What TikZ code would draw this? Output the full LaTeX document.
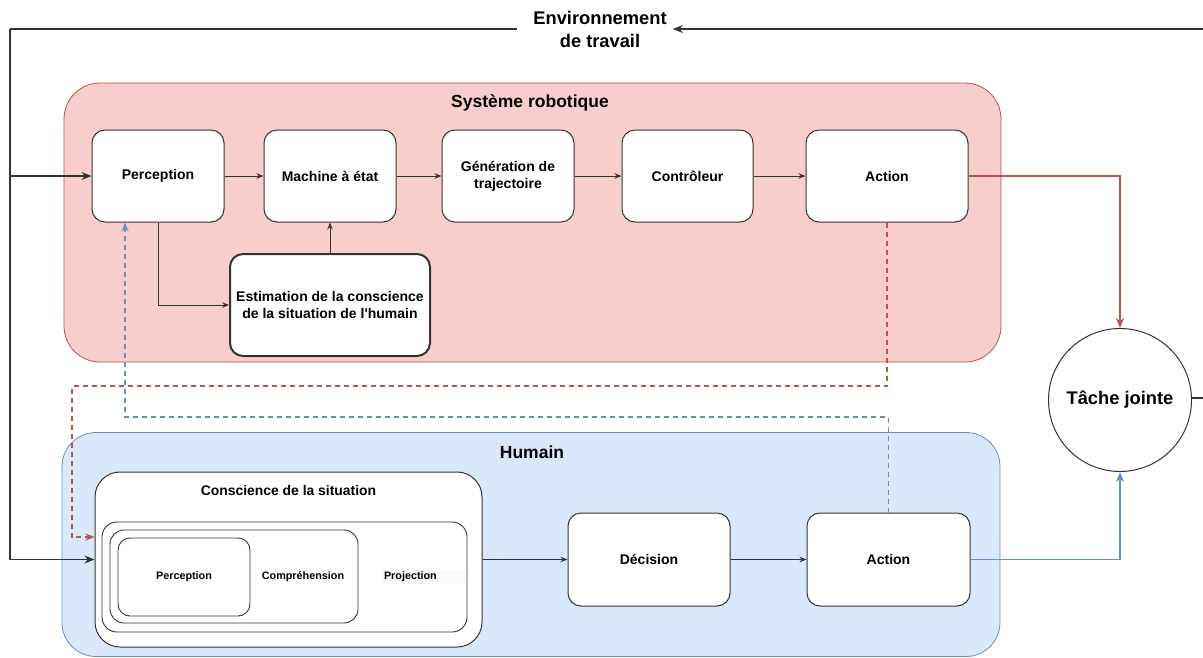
\documentclass[tikz,border=0pt]{standalone}
\usepackage{fontspec}
\setmainfont{Liberation Sans}
\newfontfamily\plainsans{Liberation Sans}
\usetikzlibrary{arrows.meta}
\definecolor{rfill}{HTML}{F8CECC}
\definecolor{rline}{HTML}{B85450}
\definecolor{bfill}{HTML}{DAE8FC}
\definecolor{bline}{HTML}{6C8EBF}
\definecolor{gline}{HTML}{333333}
\tikzset{
  container/.style={draw, line width=0.8pt, rounded corners=36pt},
  boxn/.style={draw=gline, fill=white, line width=1pt, rounded corners=13pt, align=center,
    font=\fontsize{14}{17}\selectfont\bfseries, inner sep=0pt},
  inbox/.style={draw=gline, fill=white, line width=0.9pt, inner sep=0pt},
  title/.style={font=\fontsize{17.5}{21}\selectfont\bfseries, inner sep=0pt},
  small/.style={font=\fontsize{10.8}{13}\selectfont\bfseries, inner sep=0pt},
  conn/.style={draw=gline, line width=0.9pt, -{Stealth[length=7pt,width=5.5pt]}},
  mainconn/.style={draw=gline, line width=1.6pt, -{Stealth[length=10pt,width=8pt]}},
  mainline/.style={draw=gline, line width=1.6pt},
  redconn/.style={draw=rline, line width=1.6pt, -{Stealth[length=10pt,width=8pt]}},
  blueconn/.style={draw=bline, line width=1.6pt, -{Stealth[length=10pt,width=8pt]}},
  reddash/.style={draw=rline, line width=1.4pt, dash pattern=on 5pt off 4pt, -{Stealth[length=9pt,width=7pt]}},
  bluedash/.style={draw=bline, line width=1.4pt, dash pattern=on 5pt off 4pt, -{Stealth[length=9pt,width=7pt]}},
}
\begin{document}
\begin{tikzpicture}[x=1pt,y=-1pt]
\useasboundingbox[fill=white] (0,0) rectangle (1203,657);

% containers
\node[container, draw=rline, fill=rfill, minimum width=937pt, minimum height=279pt, inner sep=0pt] (sys) at (532.5,222.5) {};
\node[title] (systitle) at (530,103) {Système robotique};
\node[container, draw=bline, fill=bfill, minimum width=938pt, minimum height=224pt, rounded corners=34pt, inner sep=0pt] (hum) at (531,544.5) {};
\node[title] (humtitle) at (532,452) {Humain};

% environment
\node[font=\fontsize{18.3}{23}\selectfont\bfseries, align=center, inner sep=0pt] (env) at (600,29) {Environnement\\de travail};

% top row
\node[boxn, minimum width=132pt, minimum height=92pt] (perc) at (158,176) {Perception};
\node[boxn, minimum width=132pt, minimum height=92pt] (mach) at (330,176) {Machine à état};
\node[boxn, minimum width=132pt, minimum height=92pt] (gen) at (508,176) {Génération de\\trajectoire};
\node[boxn, minimum width=131pt, minimum height=92pt] (ctrl) at (687.5,176) {Contrôleur};
\node[boxn, minimum width=162pt, minimum height=92pt] (act) at (887,176) {Action};
\node[boxn, line width=2pt, minimum width=200pt, minimum height=102pt] (est) at (330,305) {Estimation de la conscience\\de la situation de l{\plainsans\bfseries '}humain};

% human side
\node[boxn, rounded corners=25pt, minimum width=387pt, minimum height=175pt] (consc) at (288.5,559.5) {};
\node[font=\fontsize{13.9}{16}\selectfont\bfseries, inner sep=0pt] (constitle) at (288.5,491) {Conscience de la situation};
\node[inbox, rounded corners=15pt, minimum width=365pt, minimum height=110pt] (proj) at (284.5,577) {};
\node[inbox, rounded corners=14pt, minimum width=248pt, minimum height=93pt] (comp) at (234,576.5) {};
\node[inbox, rounded corners=12pt, minimum width=132pt, minimum height=78pt] (hperc) at (184,577) {};
\node[small] (tperc) at (184,577) {Perception};
\node[small] (tcomp) at (303,577) {Compréhension};
\node[small, fill=black!2.5, inner xsep=1pt, inner ysep=1.5pt, minimum width=82pt, text width=80pt, align=left] (tproj) at (424,577) {Projection};
\node[boxn, minimum width=162pt, minimum height=93pt] (dec) at (649,559.5) {Décision};
\node[boxn, minimum width=163pt, minimum height=93pt] (hact) at (888.5,559.5) {Action};

% joint task
\node[draw=gline, fill=white, circle, line width=1pt, minimum size=143pt, inner sep=0pt,
  font=\fontsize{18.3}{22}\selectfont\bfseries] (tache) at (1120,400) {Tâche jointe};

% coordinates
\coordinate (L) at (10,29);
\coordinate (Rc) at (1215,398);
\coordinate (rdc) at (72,386);
\coordinate (bdc) at (125,417);

% connectors
\draw[mainline] ([xshift=-16pt]env.west) -- (L);
\draw[mainconn] (L) |- (consc.west);
\draw[mainconn] (L |- perc.west) -- (perc.west);
\draw[mainconn] (tache.east |- Rc) -- (Rc) |- ([xshift=6pt]env.east);

\draw[conn] (perc) -- (mach);
\draw[conn] (mach) -- (gen);
\draw[conn] (gen) -- (ctrl);
\draw[conn] (ctrl) -- (act);
\draw[conn] (perc.south) |- (est.west);
\draw[conn] (est.north) -- (mach.south);
\draw[conn] (consc.east) -- (dec.west);
\draw[conn] (dec) -- (hact);

\draw[redconn] (act.east) -| (tache.north);
\draw[blueconn] (hact.east) -| (tache.south);

\draw[reddash] (act.south) |- (rdc) |- ([yshift=22.5pt]consc.west);
\draw[bluedash] (hact.north) |- (bdc) -- (bdc |- perc.south);
\end{tikzpicture}
\end{document}
